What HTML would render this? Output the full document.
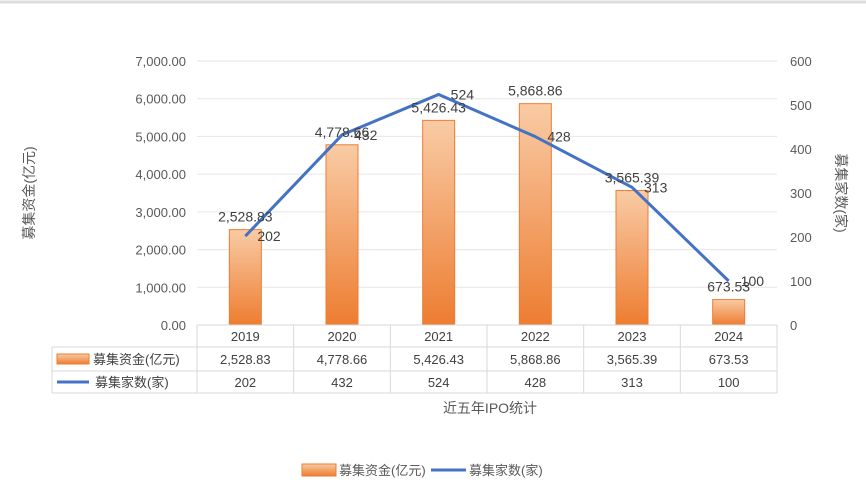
<!DOCTYPE html>
<html><head><meta charset="utf-8"><style>
body{margin:0;background:#fff;}
svg text{font-family:"Liberation Sans","Noto Sans CJK SC",sans-serif;}
</style></head><body>
<svg width="866" height="493" viewBox="0 0 866 493" xmlns="http://www.w3.org/2000/svg">
<defs>
<linearGradient id="bg" x1="0" y1="0" x2="0" y2="1">
<stop offset="0" stop-color="#f9cba5"/><stop offset="1" stop-color="#ed7d31"/>
</linearGradient>
</defs>
<rect x="0" y="0" width="866" height="493" fill="#fff"/>
<line x1="0" y1="2" x2="866" y2="2" stroke="#ddd" stroke-width="3"/>
<g id="grid"></g>
<g id="bars"></g>
<g id="line"></g>
<g id="labels"></g>
<g id="table"></g>
<text x="34" y="193" font-size="14" fill="#595959" text-anchor="middle" transform="rotate(-90 34 193)">募集资金(亿元)</text>
<text x="836" y="193" font-size="14" fill="#595959" text-anchor="middle" transform="rotate(90 836 193)">募集家数(家)</text>
<text x="490" y="413" font-size="14" fill="#595959" text-anchor="middle">近五年IPO统计</text>
<g>
<rect x="302" y="464" width="34" height="12" fill="url(#bg)" stroke="#ed7d31"/>
<text x="339" y="475" font-size="13" fill="#595959">募集资金(亿元)</text>
<line x1="431" y1="470" x2="466" y2="470" stroke="#4472c4" stroke-width="3"/>
<text x="469" y="475" font-size="13" fill="#595959">募集家数(家)</text>
</g>
</svg>
<script>
const categories=["2019","2020","2021","2022","2023","2024"];
const funds=[2528.83,4778.66,5426.43,5868.86,3565.39,673.53];
const counts=[202,432,524,428,313,100];
const leftTicks=[0,1000,2000,3000,4000,5000,6000,7000];
const rightTicks=[0,100,200,300,400,500,600];
const NS="http://www.w3.org/2000/svg";
const X0=197,X1=777,Y0=325,Y1=61;
const bw=(X1-X0)/categories.length;
const xc=i=>X0+bw*(i+0.5);
const yL=v=>Y0-(v/7000)*(Y0-Y1);
const yR=v=>Y0-(v/600)*(Y0-Y1);
const fmt=v=>v.toLocaleString("en-US",{minimumFractionDigits:2,maximumFractionDigits:2});
function mk(tag,attrs,parent,txt){const e=document.createElementNS(NS,tag);for(const k in attrs)e.setAttribute(k,attrs[k]);if(txt!==undefined)e.textContent=txt;parent.appendChild(e);return e;}
const grid=document.getElementById("grid");
leftTicks.forEach(t=>{
 if(t>0){const l=mk("line",{x1:X0,x2:X1,y1:yL(t),y2:yL(t),stroke:"#e6e6e6"},grid);
 
 }
 const tx=mk("text",{x:186,y:yL(t)+5,"font-size":13,fill:"#595959","text-anchor":"end"},grid,fmt(t));
 
 
});
rightTicks.forEach(t=>{
 const tx=mk("text",{x:790,y:yR(t)+5,"font-size":13,fill:"#595959"},grid,String(t));
 
 
});
const bars=document.getElementById("bars");
funds.forEach((v,i)=>{
 const r=mk("rect",{x:xc(i)-16,y:yL(v),width:32,height:Y0-yL(v),fill:"url(#bg)",stroke:"#ed7d31","stroke-width":1},bars);
 
 
});
const lg=document.getElementById("line");
const p=mk("polyline",{points:counts.map((v,i)=>xc(i)+","+yR(v)).join(" "),fill:"none",stroke:"#4472c4","stroke-width":3,"stroke-linejoin":"round"},lg);


const lb=document.getElementById("labels");
funds.forEach((v,i)=>{
 const t=mk("text",{x:xc(i),y:yL(v)-8,"font-size":14,fill:"#404040","text-anchor":"middle"},lb,fmt(v));
 
 
});
counts.forEach((v,i)=>{
 const t=mk("text",{x:xc(i)+12,y:yR(v)+5,"font-size":14,fill:"#404040"},lb,String(v));
 
 
});
const tb=document.getElementById("table");
const rows=[325,347,371,393];
mk("line",{x1:X0,x2:X1,y1:325,y2:325,stroke:"#d9d9d9"},tb);
[347,371,393].forEach(y=>mk("line",{x1:52,x2:X1,y1:y,y2:y,stroke:"#d9d9d9"},tb));
for(let i=0;i<=categories.length;i++){mk("line",{x1:X0+bw*i,x2:X0+bw*i,y1:325,y2:393,stroke:"#d9d9d9"},tb);}
mk("line",{x1:52,x2:52,y1:347,y2:393,stroke:"#d9d9d9"},tb);
categories.forEach((c,i)=>{
 const a=mk("text",{x:xc(i),y:341,"font-size":13,fill:"#404040","text-anchor":"middle"},tb,c);
 
 
 const b=mk("text",{x:xc(i),y:364,"font-size":13,fill:"#404040","text-anchor":"middle"},tb,fmt(funds[i]));
 
 
 const d=mk("text",{x:xc(i),y:387,"font-size":13,fill:"#404040","text-anchor":"middle"},tb,String(counts[i]));
 
 
});
mk("rect",{x:57,y:354,width:32,height:10,fill:"url(#bg)",stroke:"#ed7d31"},tb);
mk("text",{x:93,y:364,"font-size":13,fill:"#404040"},tb,"募集资金(亿元)");
mk("line",{x1:57,x2:89,y1:382,y2:382,stroke:"#4472c4","stroke-width":3},tb);
mk("text",{x:95,y:387,"font-size":13,fill:"#404040"},tb,"募集家数(家)");
</script>
</body></html>
